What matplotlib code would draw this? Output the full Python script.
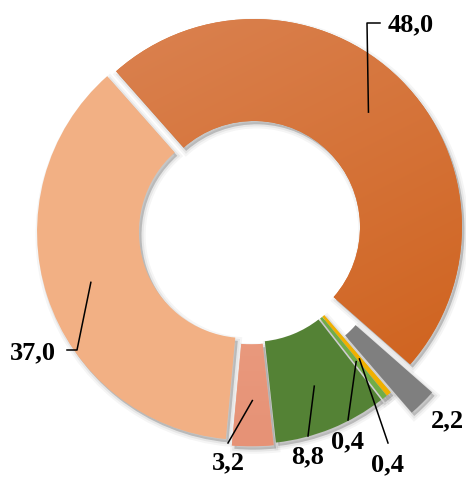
import matplotlib.pyplot as plt
import matplotlib.patches as mpatches
import numpy as np

# data, clockwise from the top-left edge of the big slice
values = [48.0, 2.2, 0.4, 0.4, 8.8, 3.2, 37.0]
labels = ['48,0', '2,2', '0,4', '0,4', '8,8', '3,2', '37,0']
colors = ['#D6702F', '#7F7F7F', '#F0B000', '#70AD47', '#548235', '#EEA083', '#F2B084']
explode = [0.02, 0.17, 0.03, 0.03, 0.03, 0.04, 0.03]

# layout in pixels of the 466x478 picture
W, H = 466, 478
PX = 208.0
CX, CY = 251, 230

# label text position and leader line bend points (pixels)
label_pos = [(411, 25), (447, 421), (388, 465), (348, 442), (308, 457), (228, 463), (33, 353)]
leader = [[(367, 23), (380, 23)], None, [(388, 443)], [(348, 420)], [(308, 436)],
          [(228, 443)], [(77, 350), (67, 350)]]


def px(x, y):
    return ((x - CX) / PX, (CY - y) / PX)


fig = plt.figure(figsize=(W / 100, H / 100), dpi=100)
ax = fig.add_axes([0, 0, 1, 1])

wedges, _ = ax.pie(values, colors=colors, explode=explode, startangle=131.5,
                   counterclock=False, radius=1.0,
                   wedgeprops=dict(width=0.49, linewidth=0))

# soft shadow under the ring
for w in wedges:
    for lw, a in [(6, 0.04), (3, 0.06), (0, 0.10)]:
        s = mpatches.Wedge((w.center[0] + 0.012, w.center[1] - 0.016), w.r,
                           w.theta1, w.theta2, width=w.width,
                           facecolor='black', edgecolor='black', linewidth=lw,
                           alpha=a, zorder=0)
        ax.add_patch(s)
for w in wedges:
    w.set_zorder(2)

# diagonal gradient fill for the big slice and the small salmon slice
yy, xx = np.mgrid[0:1:200j, 0:1:200j]
for i, (c1, c2), diag in [(0, ('#DB8454', '#CE5F18'), 0.5), (5, ('#F3AE92', '#E69276'), 0.0)]:
    w = wedges[i]
    g = (yy + diag * xx) / (1 + diag)
    c1 = np.array(plt.matplotlib.colors.to_rgb(c1))
    c2 = np.array(plt.matplotlib.colors.to_rgb(c2))
    img = c1 + (c2 - c1) * g[..., None]
    cx, cy = w.center
    im = ax.imshow(img, extent=(cx - 1, cx + 1, cy - 1, cy + 1), origin='upper',
                   zorder=3, interpolation='bilinear')
    im.set_clip_path(w)

# labels with leader lines
for w, lab, pos, pts in zip(wedges, labels, label_pos, leader):
    tx, ty = px(*pos)
    ax.text(tx, ty, lab, ha='center', va='center', fontsize=19, fontweight='bold',
            family='Liberation Serif', zorder=5)
    if pts is None:
        continue
    mid = np.deg2rad((w.theta1 + w.theta2) / 2)
    ax0 = w.center[0] + 0.78 * np.cos(mid)
    ay0 = w.center[1] + 0.78 * np.sin(mid)
    xs = [ax0] + [px(*p)[0] for p in pts]
    ys = [ay0] + [px(*p)[1] for p in pts]
    ax.plot(xs, ys, color='black', linewidth=1.1, zorder=4)

ax.set_xlim(-CX / PX, (W - CX) / PX)
ax.set_ylim(-(H - CY) / PX, CY / PX)
ax.axis('off')

fig.savefig('out.png', dpi=100)
